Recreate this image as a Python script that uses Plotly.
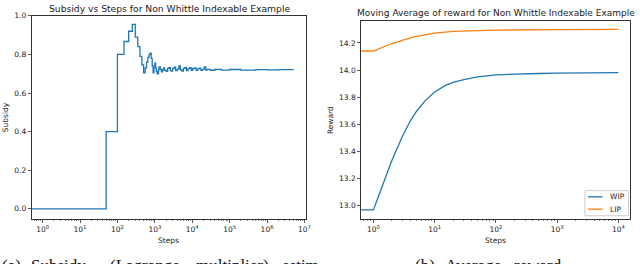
import plotly.graph_objects as go

# ---------------- data ----------------
# Left: subsidy estimate vs steps (step function)
subsidy_steps = [0, 50, 100, 150, 200, 250, 300, 350, 400, 450, 500, 550, 600, 650, 700,
                 750, 800, 850, 900, 950, 1000, 1050, 1100, 1150, 1200, 1250, 1300, 1400,
                 1500, 1600, 1700, 1800, 2000, 2200, 2400, 2600, 2800, 3000, 3300, 3600,
                 4000, 4400, 4800, 5300, 5800, 6400, 7000, 7700, 8500, 9400, 10300, 11500,
                 12700, 14000, 15500, 17000, 19000, 21000, 23000, 25000, 30000, 40000,
                 60000, 100000, 200000, 500000, 1000000, 2000000, 5000000]
subsidy_values = [0.0, 0.40, 0.80, 0.867, 0.92, 0.956, 0.89, 0.84, 0.79, 0.746, 0.704, 0.73,
                  0.76, 0.785, 0.80, 0.806, 0.78, 0.74, 0.705, 0.73, 0.755, 0.73, 0.712,
                  0.70, 0.70, 0.72, 0.735, 0.722, 0.71, 0.72, 0.73, 0.718, 0.712, 0.728,
                  0.732, 0.716, 0.713, 0.728, 0.734, 0.716, 0.724, 0.741, 0.72, 0.714,
                  0.728, 0.733, 0.716, 0.726, 0.731, 0.717, 0.727, 0.73, 0.717, 0.725,
                  0.729, 0.718, 0.724, 0.735, 0.719, 0.723, 0.718, 0.723, 0.719, 0.722,
                  0.719, 0.721, 0.72, 0.721, 0.719]

# Right: moving average of reward
reward_steps = [0, 1, 2, 3, 4, 5, 7, 10, 15, 20, 30, 50, 100, 200, 500, 1000, 3000, 10000]
wip_reward = [12.969, 12.969, 13.333, 13.516, 13.624, 13.693, 13.775, 13.838, 13.887,
              13.909, 13.93, 13.95, 13.965, 13.971, 13.975, 13.977, 13.979, 13.981]
lip_steps = [0, 1, 2, 3, 4, 5, 7, 10, 20, 50, 100, 1000, 10000]
lip_reward = [14.141, 14.141, 14.196, 14.223, 14.237, 14.249, 14.261, 14.272, 14.285,
              14.292, 14.295, 14.298, 14.30]

series_names = ["WIP", "LIP"]

left_ticks = [1, 10, 100, 1e3, 1e4, 1e5, 1e6, 1e7]
left_ticktext = ["10<sup>%d</sup>" % k for k in range(0, 8)]
right_ticks = [1, 10, 100, 1e3, 1e4]
right_ticktext = ["10<sup>%d</sup>" % k for k in range(0, 5)]

# ---------------- figure ----------------
W, H = 640, 264
BLUE = "#1f77b4"
ORANGE = "#ff7f0e"
FONT = "DejaVu Sans"


def clip0(xs):
    # matplotlib clips non-positive values on log axes to a tiny number
    return [x if x > 0 else 1e-3 for x in xs]


def px(x):
    return x / W


def py(y):
    return 1 - y / H


fig = go.Figure()
fig.add_trace(go.Scatter(x=clip0(subsidy_steps), y=subsidy_values, mode="lines",
                         line=dict(color=BLUE, width=1.3, shape="hv"),
                         showlegend=False, xaxis="x", yaxis="y", hoverinfo="skip"))
fig.add_trace(go.Scatter(x=clip0(reward_steps), y=wip_reward, mode="lines",
                         name=series_names[0], line=dict(color=BLUE, width=1.3),
                         showlegend=False, xaxis="x2", yaxis="y2", hoverinfo="skip"))
fig.add_trace(go.Scatter(x=clip0(lip_steps), y=lip_reward, mode="lines",
                         name=series_names[1], line=dict(color=ORANGE, width=1.3),
                         showlegend=False, xaxis="x2", yaxis="y2", hoverinfo="skip"))

minor_left = [m * 10 ** k for k in range(-1, 7) for m in range(2, 10)]
minor_right = [m * 10 ** k for k in range(-1, 5) for m in range(2, 10)]

axcommon = dict(showline=True, linecolor="#333", linewidth=1, mirror=True,
                ticks="outside", ticklen=3, tickwidth=0.8, tickcolor="#333",
                showgrid=False, zeroline=False,
                tickfont=dict(family=FONT, size=7.5, color="#222"))

fig.update_layout(
    width=W, height=H,
    margin=dict(l=0, r=0, t=0, b=0),
    paper_bgcolor="white", plot_bgcolor="white",
    showlegend=False,
    xaxis=dict(domain=[px(32), px(308)], type="log", range=[-0.29, 7.03],
               tickmode="array", tickvals=left_ticks, ticktext=left_ticktext,
               minor=dict(tickmode="array", tickvals=minor_left, ticks="outside",
                          ticklen=1.8, tickcolor="#333", tickwidth=0.6),
               anchor="y", **axcommon),
    yaxis=dict(domain=[py(218), py(12)], range=[-0.051, 1.0],
               tickmode="array", tickvals=[0, 0.2, 0.4, 0.6, 0.8, 1.0],
               ticktext=["0.0", "0.2", "0.4", "0.6", "0.8", "1.0"],
               anchor="x", **axcommon),
    xaxis2=dict(domain=[px(364), px(635)], type="log", range=[-0.2, 4.19],
                tickmode="array", tickvals=right_ticks, ticktext=right_ticktext,
                minor=dict(tickmode="array", tickvals=minor_right, ticks="outside",
                           ticklen=1.8, tickcolor="#333", tickwidth=0.6),
                anchor="y2", **axcommon),
    yaxis2=dict(domain=[py(218), py(17)], range=[12.904, 14.364],
                tickmode="array", tickvals=[13.0, 13.2, 13.4, 13.6, 13.8, 14.0, 14.2],
                ticktext=["13.0", "13.2", "13.4", "13.6", "13.8", "14.0", "14.2"],
                anchor="x2", **axcommon),
)

ann = []
ann.append(dict(text="Subsidy vs Steps for Non Whittle Indexable Example",
                x=px(170.5), y=py(5), xref="paper", yref="paper", showarrow=False,
                xanchor="center", yanchor="middle",
                font=dict(family=FONT, size=9.2, color="#222")))
ann.append(dict(text="Moving Average of reward for Non Whittle Indexable Example",
                x=px(499.5), y=py(9.5), xref="paper", yref="paper", showarrow=False,
                xanchor="center", yanchor="middle",
                font=dict(family=FONT, size=9.0, color="#222")))
lab = dict(family=FONT, size=7.5, color="#222")
ann.append(dict(text="Steps", x=px(170), y=py(240), xref="paper", yref="paper",
                showarrow=False, xanchor="center", yanchor="middle", font=lab))
ann.append(dict(text="Steps", x=px(499.5), y=py(240), xref="paper", yref="paper",
                showarrow=False, xanchor="center", yanchor="middle", font=lab))
ann.append(dict(text="Subsidy", x=px(5), y=py(115), xref="paper", yref="paper",
                showarrow=False, xanchor="center", yanchor="middle", textangle=-90, font=lab))
ann.append(dict(text="Reward", x=px(333), y=py(117.5), xref="paper", yref="paper",
                showarrow=False, xanchor="center", yanchor="middle", textangle=-90, font=lab))

# compact legend (matplotlib style) for the right panel
shapes = [dict(type="rect", xref="paper", yref="paper",
               x0=px(589.5), x1=px(633.5), y0=py(215), y1=py(189.5),
               line=dict(color="#cccccc", width=1), fillcolor="white", layer="above")]
leg_colors = [BLUE, ORANGE]
leg_y = [195.8, 208.3]
for name, col, yy in zip(series_names, leg_colors, leg_y):
    shapes.append(dict(type="line", xref="paper", yref="paper",
                       x0=px(592.7), x1=px(607.3), y0=py(yy), y1=py(yy),
                       line=dict(color=col, width=1.3), layer="above"))
    ann.append(dict(text=name, x=px(613), y=py(yy), xref="paper", yref="paper",
                    showarrow=False, xanchor="left", yanchor="middle",
                    font=dict(family=FONT, size=7.5, color="#222")))

# captions (cut off by the bottom edge, as in the reference)
cap = dict(family="Liberation Serif", size=17, color="#111")
cap_words = [("(a)", 1), ("Subsidy", 30), ("(Lagrange", 110), ("multiplier)", 197),
             ("estim", 283), ("(b)", 417), ("Average", 447), ("reward", 517)]
for w, x0 in cap_words:
    ann.append(dict(text=w, x=px(x0), y=py(254.5), xref="paper", yref="paper",
                    showarrow=False, xanchor="left", yanchor="top", font=cap,
                    borderpad=0))

fig.update_layout(annotations=ann, shapes=shapes)
fig.write_html("out.html", config={"displayModeBar": False, "staticPlot": True},
               post_script="document.body.style.margin='0';document.body.style.overflow='hidden';")
